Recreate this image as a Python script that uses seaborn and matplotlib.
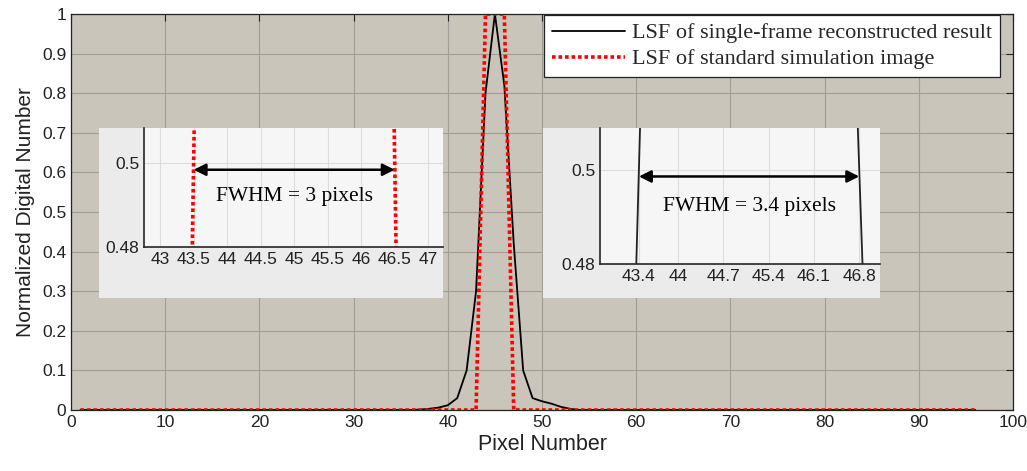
import numpy as np
import pandas as pd
import seaborn as sns
import matplotlib.pyplot as plt

# pixel positions 1..96
pixels = list(range(1, 97))

# LSF of single-frame reconstructed result (non-zero part around the peak)
recon_peak_x = [36, 37, 38, 39, 40, 41, 42, 43, 44, 45, 46, 47, 48, 49, 50, 51, 52, 53, 54]
recon_peak_y = [0.0, 0.001, 0.003, 0.006, 0.012, 0.03, 0.1, 0.3, 0.8, 1.0, 0.82,
                0.42, 0.1, 0.03, 0.022, 0.016, 0.008, 0.003, 0.0]

# LSF of standard simulation image (box of width 3)
standard_ones = [44, 45, 46]

recon = [0.0] * len(pixels)
for px, val in zip(recon_peak_x, recon_peak_y):
    recon[px - 1] = val
standard = [1.0 if p in standard_ones else 0.0 for p in pixels]

df = pd.DataFrame({'pixel': pixels, 'recon': recon, 'standard': standard})

label_recon = 'LSF of single-frame reconstructed result'
label_std = 'LSF of standard simulation image'

inset1_ticks = [43, 43.5, 44, 44.5, 45, 45.5, 46, 46.5, 47]
inset2_ticks = [43.4, 44, 44.7, 45.4, 46.1, 46.8]

sns.set_style('white')
plt.rcParams['font.family'] = ['Liberation Sans', 'DejaVu Sans']

W, H = 1027, 471
fig = plt.figure(figsize=(W / 100, H / 100), dpi=100)


def box(x0, y0, x1, y1):
    # pixel box (top-left origin) -> figure fraction
    return [x0 / W, 1 - y1 / H, (x1 - x0) / W, (y1 - y0) / H]


ax = fig.add_axes(box(71, 14, 1013, 410))
ax.set_facecolor('#c9c5ba')
sns.lineplot(data=df, x='pixel', y='recon', ax=ax, color='black', linewidth=1.3,
             label=label_recon)
sns.lineplot(data=df, x='pixel', y='standard', ax=ax, color='red', linewidth=2.6,
             linestyle=(0, (1, 0.8)), label=label_std)
ax.set_xlim(0, 100)
ax.set_ylim(0, 1)
ax.set_xticks(range(0, 101, 10))
ax.set_yticks(np.round(np.arange(0, 1.01, 0.1), 1))
ax.set_yticklabels(['0', '0.1', '0.2', '0.3', '0.4', '0.5', '0.6', '0.7', '0.8', '0.9', '1'])
ax.tick_params(direction='in', top=True, right=True, labelsize=12.5, length=5,
               colors='#222222')
ax.grid(True, color='#a19e96', linewidth=0.8)
for s in ax.spines.values():
    s.set_color('#222222')
    s.set_linewidth(0.9)
ax.set_xlabel('Pixel Number', fontsize=15.5, color='#222222', labelpad=3)
ax.set_ylabel('Normalized Digital Number', fontsize=15, color='#222222', labelpad=5)
leg = ax.legend(loc='upper right', bbox_to_anchor=(1000 / W, 1 - 15 / H),
                bbox_transform=fig.transFigure, borderaxespad=0, fancybox=False,
                framealpha=1, edgecolor='#222222', handlelength=3.3, handletextpad=0.3,
                borderpad=0.35, labelspacing=0.25,
                prop={'family': 'Liberation Serif', 'size': 16})
leg.get_frame().set_linewidth(0.9)


def inset(panel, axbox, xlim, ylim, xticks, col, x0, x1, ytxt, text):
    bg = fig.add_axes(box(*panel))
    bg.set_facecolor('#ebebeb')
    bg.set_xticks([])
    bg.set_yticks([])
    for s in bg.spines.values():
        s.set_visible(False)
    ia = fig.add_axes(box(*axbox))
    ia.set_facecolor('#f6f6f6')
    if col == 'recon':
        sns.lineplot(data=df, x='pixel', y='recon', ax=ia, color='#222222', linewidth=1.3)
    else:
        sns.lineplot(data=df, x='pixel', y='standard', ax=ia, color='red', linewidth=2.6,
                     linestyle=(0, (1, 0.8)))
    ia.set_xlim(*xlim)
    ia.set_ylim(*ylim)
    ia.set_xticks(xticks)
    ia.set_xticklabels([f'{t:g}' for t in xticks])
    ia.set_yticks([0.48, 0.5])
    ia.set_yticklabels(['0.48', '0.5'])
    ia.set_xlabel('')
    ia.set_ylabel('')
    ia.grid(True, color='#dcdcdc', linewidth=0.8)
    ia.tick_params(direction='in', labelsize=12.5, length=5, colors='#222222')
    ia.spines['top'].set_visible(False)
    ia.spines['right'].set_visible(False)
    ia.spines['left'].set_linewidth(1.2)
    ia.spines['bottom'].set_linewidth(1.2)
    ia.annotate('', xy=(x1, ytxt[0]), xytext=(x0, ytxt[0]),
                arrowprops=dict(arrowstyle='<|-|>', color='black', lw=1.8,
                                mutation_scale=18, shrinkA=0, shrinkB=0))
    ia.text((x0 + x1) / 2, ytxt[1], text, ha='center', va='center',
            family='Liberation Serif', fontsize=15.5, color='black')


inset((99, 128, 443, 298), (144, 128, 443, 247), (42.76, 47.22), (0.48, 0.5085),
      inset1_ticks, 'standard', 43.5, 46.5, (0.4985, 0.492), 'FWHM = 3 pixels')
inset((543, 128, 880, 298), (600, 128, 880, 264), (42.8, 47.12), (0.48, 0.5089),
      inset2_ticks, 'recon', 43.4, 46.8, (0.4986, 0.4923), 'FWHM = 3.4 pixels')

fig.savefig('out.png', dpi=100, facecolor='white')
